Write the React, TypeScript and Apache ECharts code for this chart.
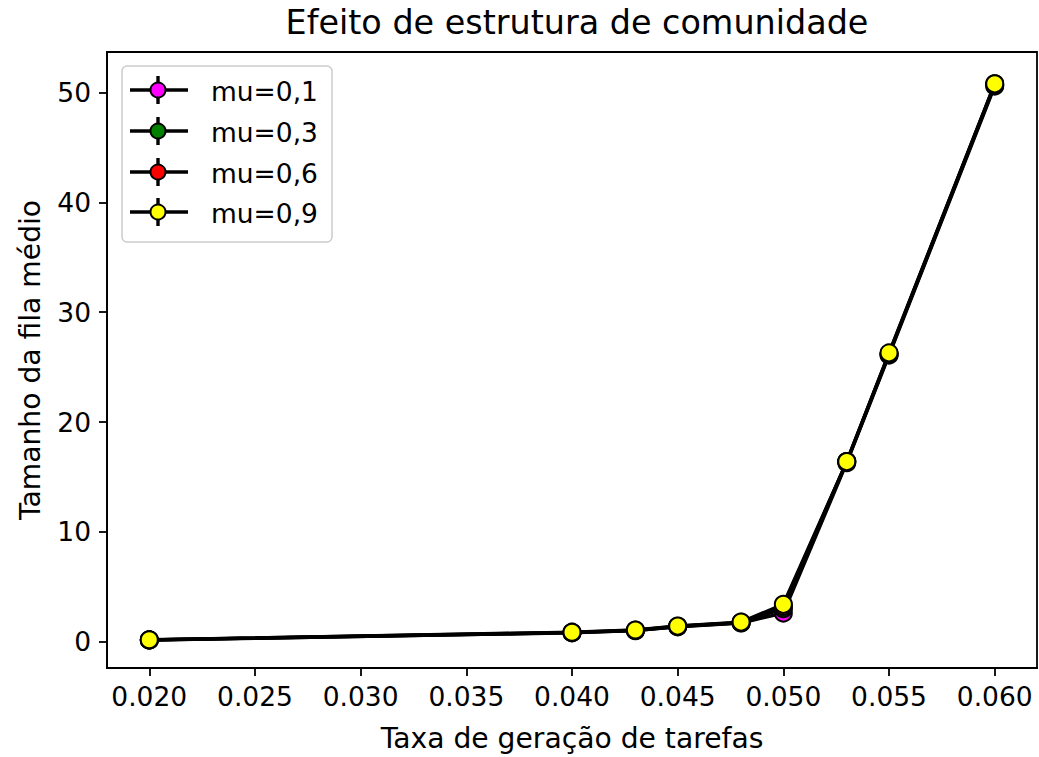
import React, { useEffect, useRef } from "react";
import * as echarts from "echarts";

const xValues = [0.02, 0.04, 0.043, 0.045, 0.048, 0.05, 0.053, 0.055, 0.06];
const seriesNames = ["mu=0,1", "mu=0,3", "mu=0,6", "mu=0,9"];
const seriesColors = ["#ff00ff", "#008000", "#ff0000", "#ffff00"];
const mu01 = [0.15, 0.8, 1.0, 1.35, 1.7, 2.6, 16.3, 26.1, 50.6];
const mu03 = [0.15, 0.82, 1.02, 1.38, 1.72, 3.0, 16.4, 26.2, 50.7];
const mu06 = [0.16, 0.84, 1.04, 1.4, 1.75, 3.2, 16.4, 26.2, 50.8];
const mu09 = [0.17, 0.86, 1.06, 1.42, 1.78, 3.4, 16.4, 26.3, 50.8];
const seriesValues = [mu01, mu03, mu06, mu09];
const xTicks = [0.02, 0.025, 0.03, 0.035, 0.04, 0.045, 0.05, 0.055, 0.06];
const yTicks = [0, 10, 20, 30, 40, 50];

const FONT = "DejaVu Sans";
const FS = 26.5;
const FS_NAME = 28.2;

export default function App() {
  const ref = useRef<HTMLDivElement>(null);
  useEffect(() => {
    if (!ref.current) return;
    const chart = echarts.init(ref.current, undefined, { renderer: "svg" });
    const series = seriesNames.map((name, i) => ({
      name,
      type: "line",
      data: xValues.map((x, j) => [x, seriesValues[i][j]]),
      symbol: "circle",
      symbolSize: 17,
      lineStyle: { color: "#000", width: 3.4 },
      itemStyle: { color: seriesColors[i], borderColor: "#000", borderWidth: 2 },
      z: 2 + i,
    }));
    const legendX = 122;
    const legendY = 66;
    const rowY = [90, 131, 172, 212];
    const legendChildren: any[] = [
      {
        type: "rect",
        shape: { x: legendX, y: legendY, width: 210, height: 176, r: 5 },
        style: { fill: "rgba(255,255,255,0.8)", stroke: "#cccccc", lineWidth: 1.5 },
      },
    ];
    seriesNames.forEach((name, i) => {
      const y = rowY[i];
      legendChildren.push(
        { type: "line", shape: { x1: 130, y1: y, x2: 188, y2: y }, style: { stroke: "#000", lineWidth: 3.4 } },
        { type: "line", shape: { x1: 158, y1: y - 14, x2: 158, y2: y + 14 }, style: { stroke: "#000", lineWidth: 3.4 } },
        { type: "circle", shape: { cx: 158, cy: y, r: 7.5 }, style: { fill: seriesColors[i], stroke: "#000", lineWidth: 2 } },
        {
          type: "text",
          x: 211,
          y: y + 1,
          style: { text: name, font: `${FS}px '${FONT}'`, fill: "#000", verticalAlign: "middle", textAlign: "left" },
        }
      );
    });
    chart.setOption({
      animation: false,
      backgroundColor: "#fff",
      title: {
        text: "Efeito de estrutura de comunidade",
        left: 572,
        top: 1,
        textAlign: "center",
        textStyle: { fontFamily: FONT, fontSize: 33.4, fontWeight: "normal", color: "#000" },
      },
      grid: {
        left: 107,
        top: 52,
        width: 930,
        height: 616,
        show: true,
        borderColor: "#000",
        borderWidth: 1.8,
        backgroundColor: "transparent",
      },
      xAxis: {
        type: "value",
        min: 0.018,
        max: 0.062,
        name: "Taxa de geração de tarefas",
        nameLocation: "middle",
        nameGap: 56,
        nameTextStyle: { fontFamily: FONT, fontSize: FS_NAME, color: "#000" },
        axisLine: { show: true, onZero: false, lineStyle: { color: "#000", width: 1.8 } },
        axisTick: { show: true, inside: false, length: 8, lineStyle: { color: "#000", width: 1.8 }, customValues: xTicks },
        axisLabel: {
          show: true,
          margin: 15,
          fontFamily: FONT,
          fontSize: FS,
          color: "#000",
          customValues: xTicks,
          formatter: (v: number) => v.toFixed(3),
        },
        splitLine: { show: false },
      },
      yAxis: {
        type: "value",
        min: -2.4,
        max: 53.7,
        name: "Tamanho da fila médio",
        nameLocation: "middle",
        nameGap: 63,
        nameRotate: 90,
        nameTextStyle: { fontFamily: FONT, fontSize: FS_NAME, color: "#000" },
        axisLine: { show: true, onZero: false, lineStyle: { color: "#000", width: 1.8 } },
        axisTick: { show: true, inside: false, length: 8, lineStyle: { color: "#000", width: 1.8 }, customValues: yTicks },
        axisLabel: {
          show: true,
          margin: 16,
          fontFamily: FONT,
          fontSize: FS,
          color: "#000",
          customValues: yTicks,
          formatter: (v: number) => String(Math.round(v)),
        },
        splitLine: { show: false },
      },
      graphic: [{ type: "group", children: legendChildren, z: 100 }],
      series,
    });
    return () => chart.dispose();
  }, []);
  return <div ref={ref} style={{ position: "absolute", left: 0, top: 0, width: 1039, height: 757 }} />;
}
